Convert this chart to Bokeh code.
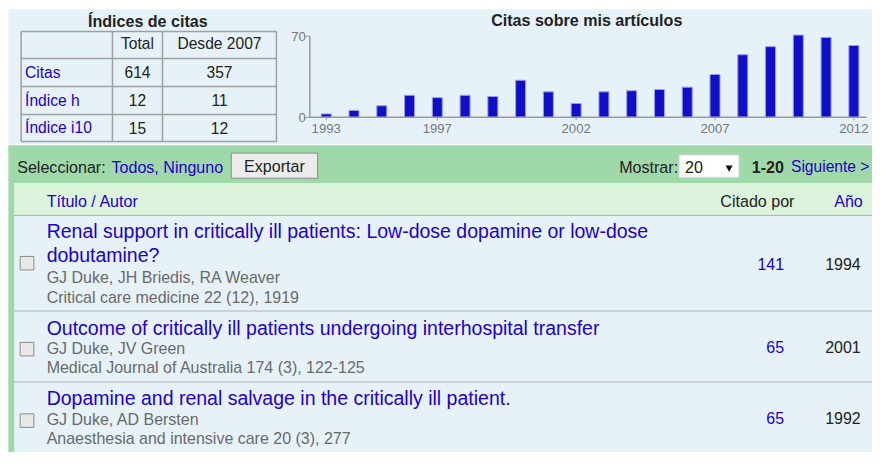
from bokeh.plotting import figure
from bokeh.models import Range1d
from bokeh.core.properties import value
from bokeh.embed import file_html
from bokeh.resources import INLINE

# ---------------- data ----------------
years = list(range(1993, 2013))
citations = [3, 6, 10, 19, 17, 19, 18, 32, 22, 12, 22, 23, 24, 26, 37, 54, 61, 71, 69, 62]
tick_years = [1993, 1997, 2002, 2007, 2012]
y_ticks = [0, 70]
chart_title = "Citas sobre mis artículos"

table_title = "Índices de citas"
table_cols = ["Total", "Desde 2007"]
table_rows = ["Citas", "Índice h", "Índice i10"]
table_total = [614, 12, 15]
table_since = [357, 11, 12]

title_lines = [
    ["Renal support in critically ill patients: Low-dose dopamine or low-dose", "dobutamine?"],
    ["Outcome of critically ill patients undergoing interhospital transfer"],
    ["Dopamine and renal salvage in the critically ill patient."],
]
authors = ["GJ Duke, JH Briedis, RA Weaver", "GJ Duke, JV Green", "GJ Duke, AD Bersten"]
venues = ["Critical care medicine 22 (12), 1919",
          "Medical Journal of Australia 174 (3), 122-125",
          "Anaesthesia and intensive care 20 (3), 277"]
cited_by = [141, 65, 65]
pub_years = [1994, 2001, 1992]

# ---------------- style ----------------
FONT = value("Liberation Sans")
BLUE_LINK = "#2200cc"
LIGHT_BLUE = "#e6f2f8"
GREEN = "#a0d9a9"
LIGHT_GREEN = "#ddf4dc"
TXT = "#222222"
GRAY_TXT = "#6a6a6a"

W, H = 872, 452
PAGE_W, PAGE_H = 888, 468           # layout units of the page
S = 0.975                           # font scale page units -> pixels

p = figure(width=W, height=H, x_range=Range1d(0, PAGE_W), y_range=Range1d(PAGE_H, 0),
           output_backend="svg", toolbar_location=None, min_border=0,
           x_axis_type=None, y_axis_type=None, outline_line_color=None,
           background_fill_color="white", border_fill_color="white")
p.xgrid.visible = False
p.ygrid.visible = False

# bar-chart scales (mapped onto its box of the page)
X0_PX, DX = 331.7, 28.28     # page x of first year, units per year
Y0_PX, DY = 121.0, 1.2       # page y of zero, units per citation
p.extra_x_ranges = {"yr": Range1d(1993 + (0 - X0_PX) / DX, 1993 + (PAGE_W - X0_PX) / DX)}
p.extra_y_ranges = {"cit": Range1d((Y0_PX - PAGE_H) / DY, (Y0_PX - 0) / DY)}

def txt(xs, ys, texts, size, color=TXT, align="left", bold=False, baseline="middle", **kw):
    p.text(x=xs, y=ys, text=texts, text_font=FONT, text_font_size=f"{size * S:.2f}px",
           text_color=color, text_align=align, text_baseline=baseline,
           text_font_style="bold" if bold else "normal", **kw)

# ---------------- backgrounds ----------------
p.quad(left=[8], right=[888], top=[9], bottom=[149], fill_color=LIGHT_BLUE, line_color=None)
p.quad(left=[8], right=[888], top=[150], bottom=[468], fill_color=GREEN, line_color=None)
p.quad(left=[14], right=[888], top=[189], bottom=[222], fill_color=LIGHT_GREEN, line_color=None)
p.quad(left=[14], right=[888], top=[223], bottom=[468], fill_color=LIGHT_BLUE, line_color=None)
p.segment(x0=[14, 14, 14], y0=[222.5, 321.5, 395], x1=[888, 888, 888], y1=[222.5, 321.5, 395],
          line_color="#b4b4b4", line_width=1)

# ---------------- citation table ----------------
txt([150], [21], [table_title], 16.5, bold=True, align="center")
col_x = [21, 114, 165, 281]
row_y = [32, 60, 89, 118, 146]
p.segment(x0=[col_x[0]] * 5, x1=[col_x[-1]] * 5, y0=row_y, y1=row_y, line_color="#a0a0a0", line_width=1.5)
p.segment(x0=col_x, x1=col_x, y0=[row_y[0]] * 4, y1=[row_y[-1]] * 4, line_color="#a0a0a0", line_width=1.5)
cx = [(col_x[1] + col_x[2]) / 2, (col_x[2] + col_x[3]) / 2]
txt(cx, [45, 45], table_cols, 16, align="center")
ry = [(row_y[i] + row_y[i + 1]) / 2 for i in range(1, 4)]
txt([25] * 3, ry, table_rows, 16, color=BLUE_LINK)
txt([cx[0]] * 3, ry, [str(v) for v in table_total], 16, align="center")
txt([cx[1]] * 3, ry, [str(v) for v in table_since], 16, align="center")

# ---------------- citations bar chart ----------------
txt([597], [20], [chart_title], 16.5, bold=True, align="center")
p.vbar(x=years, top=citations, bottom=0, width=0.36, x_range_name="yr", y_range_name="cit",
       fill_color="#0f0fc8", line_color="#9a9af0", line_width=1)
p.segment(x0=[315], x1=[882], y0=[0], y1=[0], y_range_name="cit", line_color="#9a9a9a", line_width=1.5)
p.segment(x0=[315], x1=[315], y0=[0], y1=[70], y_range_name="cit", line_color="#9a9a9a", line_width=1.5)
p.segment(x0=[310] * len(y_ticks), x1=[315] * len(y_ticks), y0=y_ticks, y1=y_ticks,
          y_range_name="cit", line_color="#9a9a9a", line_width=1)
txt([311] * len(y_ticks), y_ticks, [str(v) for v in y_ticks], 13.5, color="#777777", align="right",
    y_range_name="cit")
p.segment(x0=tick_years, x1=tick_years, y0=[121] * 5, y1=[124] * 5, x_range_name="yr",
          line_color="#9a9a9a", line_width=1)
txt(tick_years, [133] * len(tick_years), [str(v) for v in tick_years], 13.5, color="#777777",
    align="center", x_range_name="yr")

# ---------------- toolbar ----------------
txt([17], [172], ["Seleccionar:"], 16.5)
txt([113], [172], ["Todos, Ninguno"], 16.5, color=BLUE_LINK)
p.quad(left=[235], right=[323], top=[158], bottom=[184], fill_color="#ececec",
       line_color="#8a8a8a", line_width=1)
txt([279], [171.5], ["Exportar"], 16.5, align="center")
txt([630], [172], ["Mostrar:"], 16.5)
p.quad(left=[691], right=[752], top=[160], bottom=[183], fill_color="white", line_color="#d8d8d8")
txt([697], [172], ["20"], 16.5)
p.scatter(x=[742], y=[173], marker="inverted_triangle", size=7, fill_color="#111111", line_color=None)
txt([765], [172], ["1-20"], 16.5, bold=True)
txt([805], [172], ["Siguiente >"], 16, color=BLUE_LINK)

# header
txt([47], [208], ["Título / Autor"], 16.5, color=BLUE_LINK)
txt([733], [208], ["Citado por"], 16.5)
txt([849], [208], ["Año"], 16.5, color=BLUE_LINK)

# ---------------- article rows ----------------
row_title_y = [[239, 264], [339], [412]]
row_auth_y = [287, 360, 434]
row_venue_y = [307, 380, 454]
row_box_y = [272, 361, 435]
row_num_y = [273, 359, 432]
for i in range(len(authors)):
    txt([47] * len(title_lines[i]), row_title_y[i], title_lines[i], 20, color=BLUE_LINK)
    txt([47], [row_auth_y[i]], [authors[i]], 16.4, color=GRAY_TXT)
    txt([47], [row_venue_y[i]], [venues[i]], 16.4, color=GRAY_TXT)
    txt([798], [row_num_y[i]], [str(cited_by[i])], 16.4, color=BLUE_LINK, align="right")
    txt([876], [row_num_y[i]], [str(pub_years[i])], 16.4, align="right")
p.quad(left=[20] * 3, right=[34] * 3, top=[y - 7 for y in row_box_y], bottom=[y + 7 for y in row_box_y],
       fill_color="#e8e8e8", line_color="#8c8c8c", line_width=1)

open("out.html", "w").write(file_html(p, INLINE))
